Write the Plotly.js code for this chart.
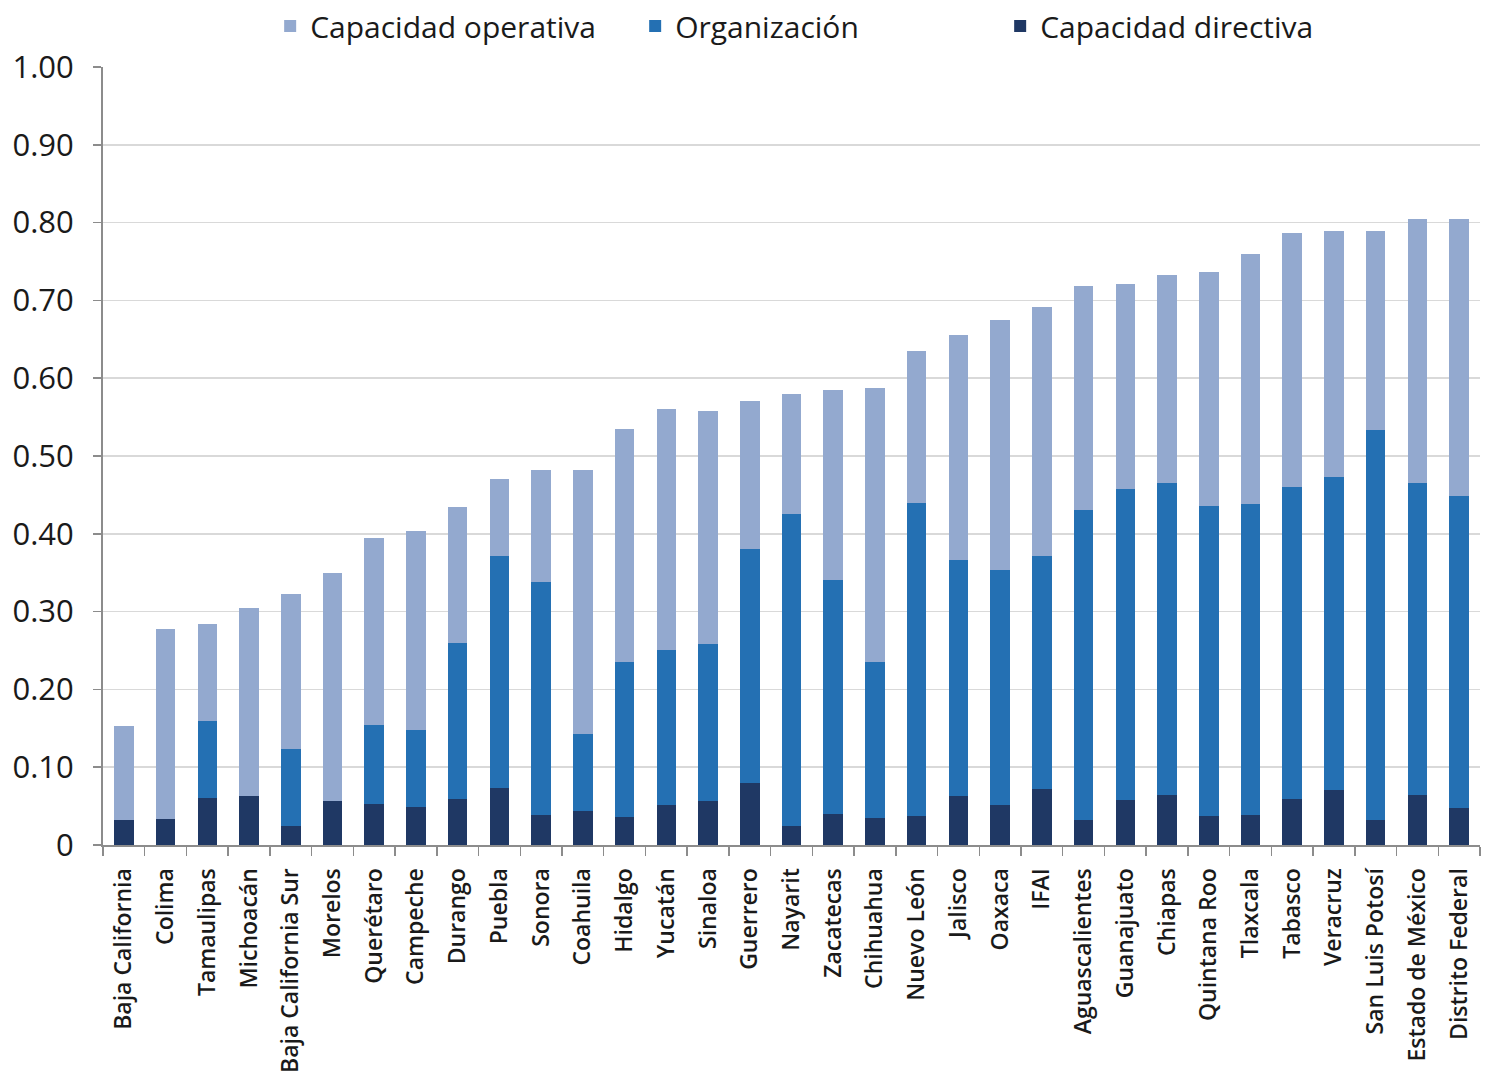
<!DOCTYPE html>
<html>
<head>
<meta charset="utf-8">
<script src="https://cdn.plot.ly/plotly-3.0.1.min.js"></script>
<style>html,body{margin:0;padding:0;background:#fff;}#chart{width:1485px;height:1078px;}</style>
</head>
<body>
<div id="chart"></div>
<script>
const categories = ["Baja California","Colima","Tamaulipas","Michoacán","Baja California Sur","Morelos","Querétaro","Campeche","Durango","Puebla","Sonora","Coahuila","Hidalgo","Yucatán","Sinaloa","Guerrero","Nayarit","Zacatecas","Chihuahua","Nuevo León","Jalisco","Oaxaca","IFAI","Aguascalientes","Guanajuato","Chiapas","Quintana Roo","Tlaxcala","Tabasco","Veracruz","San Luis Potosí","Estado de México","Distrito Federal"];

const capacidadDirectiva = [0.032,0.033,0.060,0.063,0.024,0.057,0.053,0.049,0.059,0.073,0.038,0.044,0.036,0.052,0.057,0.080,0.025,0.040,0.035,0.037,0.063,0.051,0.072,0.032,0.058,0.064,0.037,0.038,0.059,0.071,0.032,0.064,0.048];
const organizacion = [0,0,0.099,0,0.100,0,0.101,0.099,0.201,0.299,0.300,0.099,0.199,0.199,0.202,0.301,0.400,0.301,0.200,0.403,0.303,0.302,0.300,0.399,0.399,0.401,0.399,0.400,0.401,0.402,0.501,0.401,0.401];
const capacidadOperativa = [0.121,0.245,0.125,0.241,0.199,0.293,0.240,0.255,0.174,0.099,0.144,0.339,0.300,0.309,0.299,0.190,0.155,0.244,0.352,0.195,0.289,0.322,0.320,0.287,0.264,0.268,0.301,0.322,0.327,0.316,0.256,0.339,0.355];

const yTickVals = [0,0.1,0.2,0.3,0.4,0.5,0.6,0.7,0.8,0.9,1.0];
const yTickText = ["0","0.10","0.20","0.30","0.40","0.50","0.60","0.70","0.80","0.90","1.00"];

const colors = {dir:"#1F3864", org:"#2470B3", op:"#93A9CF"};

const traces = [
  {type:"bar", name:"Capacidad directiva", x:categories, y:capacidadDirectiva, marker:{color:colors.dir}},
  {type:"bar", name:"Organización", x:categories, y:organizacion, marker:{color:colors.org}},
  {type:"bar", name:"Capacidad operativa", x:categories, y:capacidadOperativa, marker:{color:colors.op}}
];

const layout = {
  width:1485, height:1078,
  margin:{l:103, r:5, t:67, b:233},
  barmode:"stack",
  bargap:0.53,
  paper_bgcolor:"#ffffff",
  plot_bgcolor:"#ffffff",
  font:{family:"Open Sans, sans-serif", color:"#1a1a1a"},
  showlegend:true,
  legend:{orientation:"h", traceorder:"reversed", x:0.519, xanchor:"center", y:1.0, yanchor:"top", yref:"container",
          entrywidth:320, entrywidthmode:"pixels",
          font:{size:30, color:"#1a1a1a"}, itemwidth:30, itemsizing:"constant"},
  xaxis:{
    type:"category",
    tickangle:-90,
    tickfont:{size:23, color:"#1a1a1a", weight:600},
    ticks:"outside", tickson:"boundaries", ticklen:9, tickcolor:"#8c8c8c", tickwidth:1.5,
    ticklabelstandoff:12,
    showline:true, linecolor:"#8c8c8c", linewidth:2,
    showgrid:false, zeroline:false, automargin:false
  },
  yaxis:{
    range:[0,1.0],
    tickvals:yTickVals, ticktext:yTickText,
    tickfont:{size:31, color:"#1a1a1a"},
    ticks:"outside", ticklen:8, tickcolor:"#8c8c8c", tickwidth:1.5,
    ticklabelstandoff:13,
    showline:true, linecolor:"#8c8c8c", linewidth:2,
    showgrid:true, gridcolor:"#d9d9d9", gridwidth:1.5,
    zeroline:false, automargin:false
  }
};

Plotly.newPlot("chart", traces, layout, {displayModeBar:false, staticPlot:true});
</script>
</body>
</html>
